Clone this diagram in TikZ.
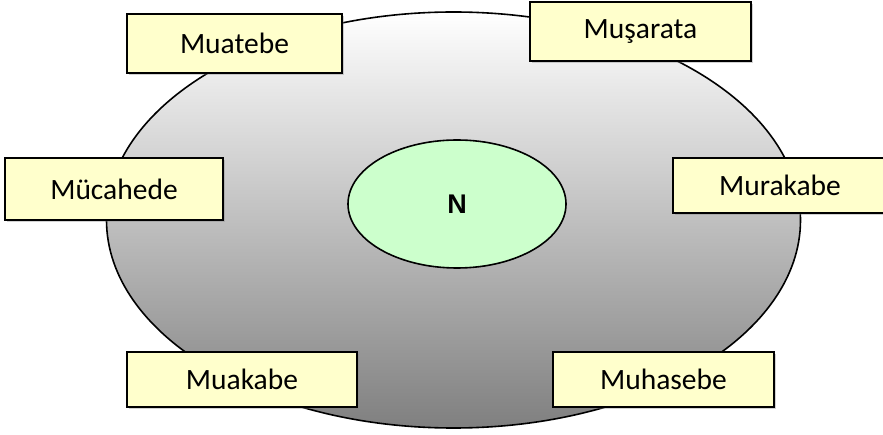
\documentclass[tikz,border=0pt]{standalone}
\usepackage{fontspec}
\setmainfont{Carlito}
\newfontfamily\nfont{Liberation Sans}
\usetikzlibrary{shapes.geometric,shadows}
\definecolor{boxfill}{HTML}{FFFFCC}
\definecolor{innerfill}{HTML}{CCFFCC}
\tikzset{
  label box/.style={draw=black, line width=1.6pt, fill=boxfill, rectangle, inner sep=0pt,
    font=\fontsize{29.5}{34}\selectfont,
    drop shadow={opacity=0.35, shadow xshift=2pt, shadow yshift=-2pt}},
  outer oval/.style={draw=black, line width=1.6pt, ellipse, inner sep=0pt,
    top color=white, bottom color=black!50},
  inner oval/.style={draw=black, line width=1.6pt, ellipse, inner sep=0pt, fill=innerfill,
    font=\nfont\bfseries\fontsize{27}{32}\selectfont}
}
\begin{document}
\begin{tikzpicture}[x=1pt,y=-1pt]
\useasboundingbox (0,0) rectangle (883,435);
\fill[white] (0,0) rectangle (883,435);
\node[outer oval, minimum width=694pt, minimum height=416pt] (outer) at (453.5,220) {};
\node[inner oval, minimum width=218pt, minimum height=128pt] (core) at (457,204) {N};
\node[label box, minimum width=215pt, minimum height=59pt] (muatebe) at (234.5,43.5) {Muatebe};
\node[label box, minimum width=221pt, minimum height=59pt] (musarata) at (640.5,31.5) {Muşarata};
\node[label box, minimum width=218pt, minimum height=62pt] (mucahede) at (114,189) {Mücahede};
\node[label box, minimum width=214pt, minimum height=55pt] (murakabe) at (780,185.5) {Murakabe};
\node[label box, minimum width=230pt, minimum height=55pt] (muakabe) at (242,379.5) {Muakabe};
\node[label box, minimum width=221pt, minimum height=55pt] (muhasebe) at (663.5,379.5) {Muhasebe};
\end{tikzpicture}
\end{document}
